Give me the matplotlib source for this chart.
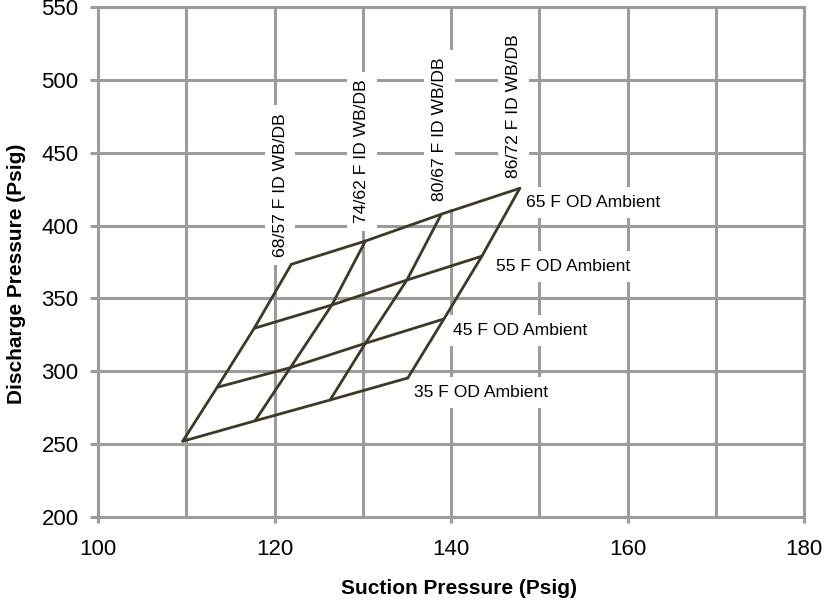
import matplotlib
matplotlib.use('Agg')
import matplotlib.pyplot as plt
import numpy as np

plt.rcParams['font.family'] = ['Liberation Sans', 'DejaVu Sans']

# indoor (WB/DB) curves, each runs 35 -> 65 F outdoor ambient
id_labels = ['68/57 F ID WB/DB', '74/62 F ID WB/DB', '80/67 F ID WB/DB', '86/72 F ID WB/DB']
od_labels = ['35 F OD Ambient', '45 F OD Ambient', '55 F OD Ambient', '65 F OD Ambient']

# suction[i][j]: indoor condition i, outdoor ambient j
suction = [
    [109.6, 113.5, 117.7, 121.9],
    [117.8, 121.8, 126.5, 130.3],
    [126.3, 130.3, 135.0, 138.9],
    [135.1, 139.2, 143.5, 147.8],
]
discharge = [
    [252.0, 289.0, 329.5, 373.4],
    [266.0, 302.5, 345.5, 389.4],
    [280.3, 319.2, 362.6, 407.8],
    [295.4, 335.9, 379.0, 425.6],
]

x_ticks = [100, 120, 140, 160, 180]
y_ticks = [200, 250, 300, 350, 400, 450, 500, 550]

# label offsets in pixels (dx, dy up) from the end point of each curve
id_offsets = [(-6.7, 7.6), (1.0, 17.7), (2.6, 13.3), (-1.6, 10.0)]
od_offsets = [(6.0, -18.7), (9.4, -16.0), (14.0, -14.7), (6.0, -18.7)]

line_color = '#3a3a26'
grid_color = '#9c9c9c'

fig = plt.figure(figsize=(8.22, 6.03), dpi=100)
ax = fig.add_axes([98 / 822, 1 - 517 / 603, 706 / 822, 510 / 603])

S = np.array(suction)
D = np.array(discharge)

# indoor lines
for i in range(S.shape[0]):
    ax.plot(S[i], D[i], color=line_color, lw=2.0, solid_capstyle='round', zorder=2)
# outdoor lines
for j in range(S.shape[1]):
    ax.plot(S[:, j], D[:, j], color=line_color, lw=2.0, solid_capstyle='round', zorder=2)

px = 72 / 100  # pixels -> points
box = dict(boxstyle='square,pad=0.45', fc='white', ec='none')

# labels sit above the grid but under the lines
for i, lab in enumerate(id_labels):
    dx, dy = id_offsets[i]
    ax.annotate(lab, (S[i, -1], D[i, -1]), xytext=(dx * px, dy * px),
                textcoords='offset points', rotation=90, rotation_mode='anchor',
                ha='left', va='baseline', fontsize=12.6, color='black',
                bbox=box, zorder=1.5)

for j, lab in enumerate(od_labels):
    dx, dy = od_offsets[j]
    ax.annotate(lab, (S[-1, j], D[-1, j]), xytext=(dx * px, dy * px),
                textcoords='offset points', ha='left', va='baseline',
                fontsize=12.6, color='black', bbox=box, zorder=1.5)

ax.set_xlim(100, 180)
ax.set_ylim(200, 550)
ax.set_xticks(x_ticks)
ax.set_xticks(np.arange(110, 180, 20), minor=True)
ax.set_yticks(y_ticks)
ax.tick_params(axis='both', which='major', width=2.2, color=grid_color, labelsize=16)
ax.tick_params(axis='x', which='major', length=4.5, pad=11)
ax.tick_params(axis='y', which='major', length=5.5, pad=8.5)
ax.tick_params(axis='x', which='minor', length=0)

ax.set_axisbelow(True)
ax.grid(True, which='both', color=grid_color, lw=2.2)
for sp in ax.spines.values():
    sp.set_color(grid_color)
    sp.set_linewidth(2.2)

fig.text(459 / 822, 1 - 589 / 603, 'Suction Pressure (Psig)', ha='center', va='center',
         fontsize=15, fontweight='bold')
fig.text(16.5 / 822, 1 - 273.5 / 603, 'Discharge Pressure (Psig)', ha='center', va='center',
         rotation=90, fontsize=15, fontweight='bold')

fig.savefig('out.png', dpi=100)
